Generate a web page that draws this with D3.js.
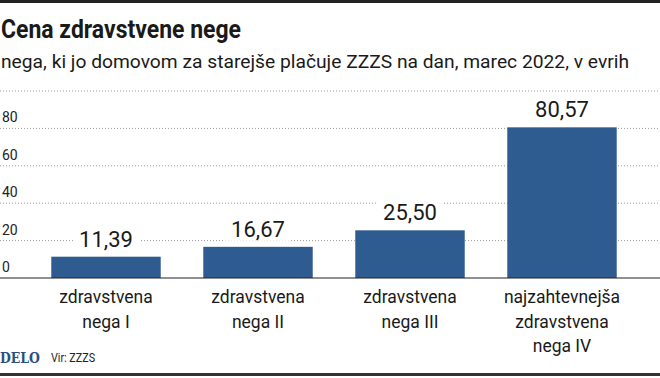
<!DOCTYPE html>
<html>
<head>
<meta charset="utf-8">
<script src="https://cdn.jsdelivr.net/npm/d3@7"></script>
<style>
  body { margin: 0; background: #fff; }
  svg { display: block; }
</style>
</head>
<body>
<svg id="chart" width="660" height="378"></svg>
<script>
// podatki
const categories = [
  ["zdravstvena", "nega I"],
  ["zdravstvena", "nega II"],
  ["zdravstvena", "nega III"],
  ["najzahtevnejša", "zdravstvena", "nega IV"]
];
const values = [11.39, 16.67, 25.50, 80.57];
const valueLabels = ["11,39", "16,67", "25,50", "80,57"];
const yTicks = [0, 20, 40, 60, 80, 100];
const yTickLabels = ["0", "20", "40", "60", "80", ""];

const svg = d3.select("#chart");
const W = 660, H = 378;
const font = "Roboto, 'Noto Sans', sans-serif";

// okvir zgoraj in spodaj
svg.append("rect").attr("x", 0).attr("y", 0).attr("width", W).attr("height", 3).attr("fill", "#222");
svg.append("rect").attr("x", 0).attr("y", 373).attr("width", W).attr("height", 3).attr("fill", "#333");

// naslov
svg.append("text")
  .attr("x", 1).attr("y", 38)
  .style("font-family", font).style("font-weight", "700").style("font-size", "26px")
  .attr("fill", "#1a1a1a")
  .attr("textLength", 240).attr("lengthAdjust", "spacingAndGlyphs")
  .text("Cena zdravstvene nege");

svg.append("text")
  .attr("x", 1).attr("y", 68)
  .style("font-family", font).style("font-size", "18px")
  .attr("fill", "#1a1a1a")
  .attr("textLength", 628).attr("lengthAdjust", "spacingAndGlyphs")
  .text("nega, ki jo domovom za starejše plačuje ZZZS na dan, marec 2022, v evrih");

const x = d3.scaleBand()
  .domain(d3.range(values.length))
  .range([30, 638])
  .paddingInner(0.28)
  .paddingOuter(0.14);

const y = d3.scaleLinear()
  .domain([0, 100])
  .range([278, 91]);

// mreža
svg.append("g")
  .selectAll("line")
  .data(yTicks.filter(d => d > 0))
  .join("line")
  .attr("x1", 0).attr("x2", W)
  .attr("y1", d => y(d)).attr("y2", d => y(d))
  .attr("stroke", "#999")
  .attr("stroke-width", 1)
  .attr("stroke-dasharray", "1,2");

// oznake osi y
svg.append("g")
  .selectAll("text")
  .data(yTicks)
  .join("text")
  .attr("x", 2)
  .attr("y", d => y(d) - 6)
  .style("font-family", font).style("font-size", "14px")
  .attr("fill", "#222")
  .attr("transform", d => `translate(0,0)`)
  .text((d, i) => yTickLabels[i]);

// stolpci
svg.append("g")
  .selectAll("rect")
  .data(values)
  .join("rect")
  .attr("x", (d, i) => x(i))
  .attr("width", x.bandwidth())
  .attr("y", d => y(d))
  .attr("height", d => y(0) - y(d))
  .attr("fill", "#2e5b90");

// vrednosti z belim ozadjem
const lab = svg.append("g")
  .selectAll("g")
  .data(values)
  .join("g")
  .attr("transform", (d, i) => `translate(${x(i) + x.bandwidth() / 2},${y(d) - 10})`);
lab.append("rect")
  .attr("x", -33).attr("y", -20).attr("width", 66).attr("height", 24)
  .attr("fill", "#fff");
lab.append("text")
  .attr("text-anchor", "middle")
  .style("font-family", font).style("font-size", "22px")
  .attr("fill", "#1a1a1a")
  .text((d, i) => valueLabels[i]);

// osnovna črta
svg.append("line")
  .attr("x1", 0).attr("x2", W)
  .attr("y1", y(0)).attr("y2", y(0))
  .attr("stroke", "#222").attr("stroke-width", 1.2);

// kategorije
const cat = svg.append("g")
  .selectAll("text")
  .data(categories)
  .join("text")
  .attr("text-anchor", "middle")
  .attr("transform", (d, i) => `translate(${x(i) + x.bandwidth() / 2},0)`)
  .style("font-family", font).style("font-size", "17.5px")
  .attr("fill", "#1a1a1a");
cat.selectAll("tspan")
  .data(d => d)
  .join("tspan")
  .attr("x", 0)
  .attr("y", (d, j) => 303 + j * 24.5)
  .text(d => d);

// vir
svg.append("text")
  .attr("x", 0).attr("y", 363)
  .style("font-family", "'DejaVu Serif', 'Liberation Serif', serif")
  .style("font-weight", "700").style("font-size", "15px")
  .attr("fill", "#2b4f7e")
  .attr("textLength", 40).attr("lengthAdjust", "spacingAndGlyphs")
  .text("DELO");
svg.append("text")
  .attr("x", 51).attr("y", 362)
  .style("font-family", font).style("font-size", "12px")
  .attr("fill", "#222")
  .attr("textLength", 44).attr("lengthAdjust", "spacingAndGlyphs")
  .text("Vir: ZZZS");
</script>
</body>
</html>
